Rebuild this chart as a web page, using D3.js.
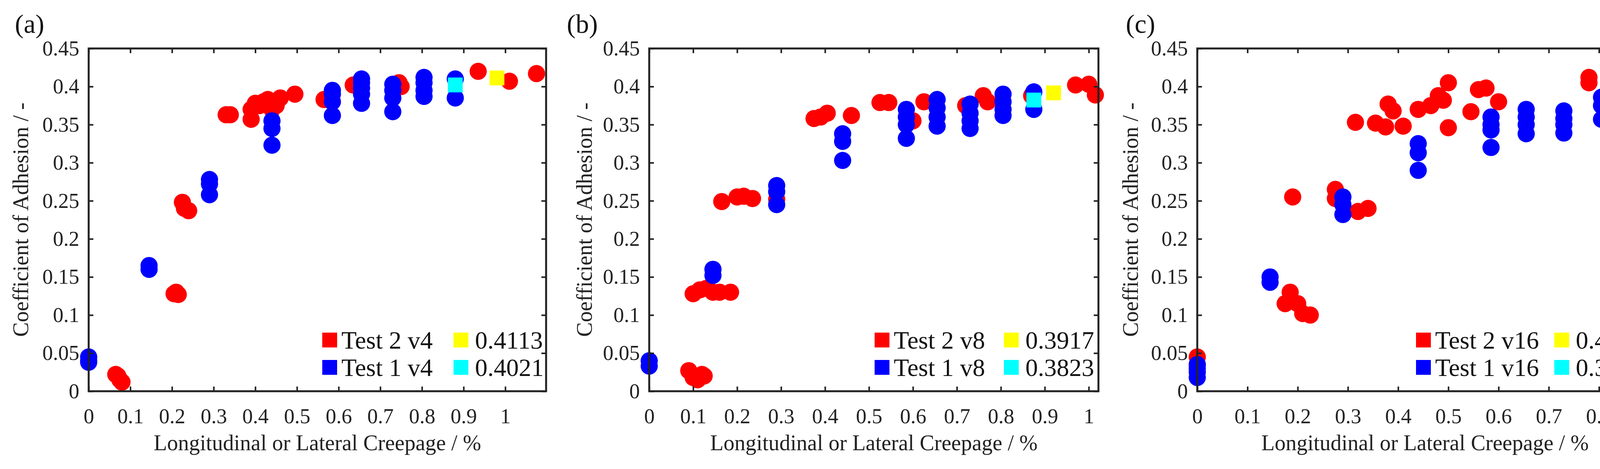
<!DOCTYPE html>
<html><head><meta charset="utf-8">
<script src="https://cdn.jsdelivr.net/npm/d3@7"></script>
<style>body{margin:0;background:#fff}svg{display:block}</style>
</head><body>
<svg id="c" width="4273" height="1200"></svg>
<script>
const yTicks = [0,0.05,0.1,0.15,0.2,0.25,0.3,0.35,0.4,0.45];
const xTicksAB = [0,0.1,0.2,0.3,0.4,0.5,0.6,0.7,0.8,0.9,1];
const xTicksC = [0,0.1,0.2,0.3,0.4,0.5,0.6,0.7,0.8,0.9];

const redA = [[0.065,0.022],[0.07,0.02],[0.075,0.015],[0.08,0.012],[0.205,0.128],[0.21,0.13],[0.215,0.127],[0.225,0.248],[0.23,0.24],[0.24,0.237],[0.33,0.363],[0.34,0.363],[0.39,0.357],[0.39,0.37],[0.40,0.378],[0.41,0.375],[0.42,0.38],[0.43,0.383],[0.44,0.37],[0.45,0.375],[0.46,0.385],[0.495,0.39],[0.565,0.383],[0.635,0.402],[0.745,0.405],[0.75,0.4],[0.935,0.42],[1.01,0.407],[1.075,0.417]];
const blueA = [[0,0.045],[0,0.04],[0,0.038],[0.145,0.165],[0.145,0.16],[0.29,0.278],[0.29,0.272],[0.29,0.258],[0.44,0.355],[0.44,0.345],[0.44,0.323],[0.585,0.395],[0.585,0.39],[0.585,0.38],[0.585,0.362],[0.655,0.41],[0.655,0.405],[0.655,0.398],[0.655,0.39],[0.655,0.378],[0.73,0.403],[0.73,0.395],[0.73,0.385],[0.73,0.367],[0.805,0.412],[0.805,0.405],[0.805,0.395],[0.805,0.387],[0.88,0.41],[0.88,0.385]];
const redB = [[0.09,0.027],[0.1,0.018],[0.11,0.015],[0.12,0.022],[0.125,0.02],[0.1,0.128],[0.115,0.133],[0.13,0.135],[0.145,0.13],[0.16,0.13],[0.185,0.13],[0.165,0.249],[0.2,0.255],[0.215,0.256],[0.235,0.253],[0.29,0.252],[0.375,0.358],[0.39,0.36],[0.405,0.365],[0.46,0.362],[0.525,0.379],[0.545,0.379],[0.6,0.355],[0.625,0.38],[0.72,0.375],[0.76,0.388],[0.77,0.38],[0.87,0.388],[0.97,0.402],[1.0,0.403],[1.015,0.389]];
const blueB = [[0,0.04],[0,0.033],[0.145,0.16],[0.145,0.152],[0.29,0.27],[0.29,0.262],[0.29,0.245],[0.44,0.338],[0.44,0.328],[0.44,0.303],[0.585,0.37],[0.585,0.36],[0.585,0.35],[0.585,0.332],[0.655,0.383],[0.655,0.372],[0.655,0.36],[0.655,0.348],[0.73,0.377],[0.73,0.365],[0.73,0.355],[0.73,0.345],[0.805,0.39],[0.805,0.38],[0.805,0.37],[0.805,0.362],[0.875,0.393],[0.875,0.37]];
const redC = [[0,0.045],[0,0.035],[0.175,0.115],[0.185,0.13],[0.2,0.115],[0.21,0.102],[0.225,0.1],[0.19,0.255],[0.275,0.265],[0.275,0.253],[0.32,0.236],[0.34,0.24],[0.315,0.353],[0.355,0.352],[0.375,0.347],[0.38,0.377],[0.39,0.368],[0.41,0.348],[0.44,0.37],[0.465,0.375],[0.48,0.388],[0.49,0.382],[0.5,0.405],[0.5,0.346],[0.545,0.367],[0.56,0.396],[0.575,0.398],[0.6,0.38],[0.78,0.412],[0.78,0.405],[0.825,0.425],[0.845,0.418],[0.87,0.416]];
const blueC = [[0,0.035],[0,0.03],[0,0.025],[0,0.018],[0.145,0.15],[0.145,0.143],[0.29,0.255],[0.29,0.245],[0.29,0.232],[0.44,0.325],[0.44,0.313],[0.44,0.29],[0.585,0.36],[0.585,0.35],[0.585,0.343],[0.585,0.32],[0.655,0.37],[0.655,0.36],[0.655,0.35],[0.655,0.338],[0.73,0.368],[0.73,0.358],[0.73,0.35],[0.73,0.339],[0.805,0.386],[0.805,0.375],[0.805,0.357],[0.875,0.392],[0.875,0.368]];
const yellowPts = [[0.98,0.4113],[0.92,0.3917],[0.825,0.4149]];
const cyanPts = [[0.88,0.4021],[0.875,0.3823],[0.875,0.3822]];
const panelLabels = ["(a)","(b)","(c)"];
const legRed = ["Test 2 v4","Test 2 v8","Test 2 v16"];
const legBlue = ["Test 1 v4","Test 1 v8","Test 1 v16"];
const legYellow = ["0.4113","0.3917","0.4149"];
const legCyan = ["0.4021","0.3823","0.3822"];

const panels = [
 {x0:227,x1:1398,xmax:1.098,xt:xTicksAB,red:redA,blue:blueA,lab:38,yt:54,lr:844,ly:1180},
 {x0:1662,x1:2812,xmax:1.022,xt:xTicksAB,red:redB,blue:blueB,lab:1451,yt:1497,lr:2258,ly:2589},
 {x0:3065,x1:4231,xmax:0.907,xt:xTicksC,red:redC,blue:blueC,lab:2882,yt:2895,lr:3644,ly:3998}
];
const svg = d3.select("#c");
const F = "'Liberation Serif','Times New Roman',serif";
const plotTop=124, plotBot=1001;
panels.forEach((p,i)=>{
  const x = d3.scaleLinear().domain([0,p.xmax]).range([p.x0,p.x1]);
  const y = d3.scaleLinear().domain([0,0.45]).range([plotBot,plotTop]);
  const g = svg.append("g");
  const dot=(data,col)=>g.selectAll(null).data(data).enter().append("circle")
    .attr("cx",d=>x(d[0])).attr("cy",d=>y(d[1])).attr("r",22).attr("fill",col);
  dot(p.red,"#ff0000"); dot(p.blue,"#0000ff");
  const sq=(d,col)=>g.append("rect").attr("x",x(d[0])-19).attr("y",y(d[1])-19).attr("width",38).attr("height",38).attr("fill",col);
  sq(yellowPts[i],"#ffff00"); sq(cyanPts[i],"#00ffff");
  const ax = (gen,tr)=>{const a=g.append("g").attr("transform",tr).call(gen);
    a.select(".domain").remove(); a.selectAll("line").attr("stroke","#222").attr("stroke-width",4);
    a.selectAll("text").attr("font-family",F).attr("font-size",54).attr("fill","#222"); return a;};
  const fmt=d=>d===0?"0":String(+d.toFixed(2));
  ax(d3.axisBottom(x).tickValues(p.xt).tickSize(-12).tickPadding(44).tickFormat(fmt),`translate(0,${plotBot})`);
  ax(d3.axisTop(x).tickValues(p.xt).tickSize(-12).tickFormat(""),`translate(0,${plotTop})`);
  ax(d3.axisLeft(y).tickValues(yTicks).tickSize(-12).tickPadding(24).tickFormat(fmt),`translate(${p.x0},0)`);
  ax(d3.axisRight(y).tickValues(yTicks).tickSize(-12).tickFormat(""),`translate(${p.x1},0)`);
  g.append("rect").attr("x",p.x0).attr("y",plotTop).attr("width",p.x1-p.x0).attr("height",plotBot-plotTop)
    .attr("fill","none").attr("stroke","#222").attr("stroke-width",5);
  g.append("text").attr("x",(p.x0+p.x1)/2).attr("y",1152).attr("text-anchor","middle")
    .attr("font-family",F).attr("font-size",56).attr("fill","#222").text("Longitudinal or Lateral Creepage / %");
  g.append("text").attr("transform",`translate(${p.yt+18},562) rotate(-90)`).attr("text-anchor","middle")
    .attr("font-family",F).attr("font-size",56).attr("fill","#222").text("Coefficient of Adhesion / -");
  g.append("text").attr("x",p.lab).attr("y",84).attr("font-family",F).attr("font-size",68).attr("fill","#111").text(panelLabels[i]);
  const rows=[[legRed[i],"#ff0000",legYellow[i],"#ffff00",870],[legBlue[i],"#0000ff",legCyan[i],"#00ffff",940]];
  rows.forEach(r=>{
    g.append("rect").attr("x",p.lr-19).attr("y",r[4]-19).attr("width",38).attr("height",38).attr("fill",r[1]);
    g.append("text").attr("x",p.lr+30).attr("y",r[4]+22).attr("font-family",F).attr("font-size",64).attr("fill","#111").text(r[0]);
    g.append("rect").attr("x",p.ly-19).attr("y",r[4]-19).attr("width",38).attr("height",38).attr("fill",r[3]);
    g.append("text").attr("x",p.ly+36).attr("y",r[4]+22).attr("font-family",F).attr("font-size",64).attr("fill","#111").text(r[2]);
  });
});
</script>
</body></html>
